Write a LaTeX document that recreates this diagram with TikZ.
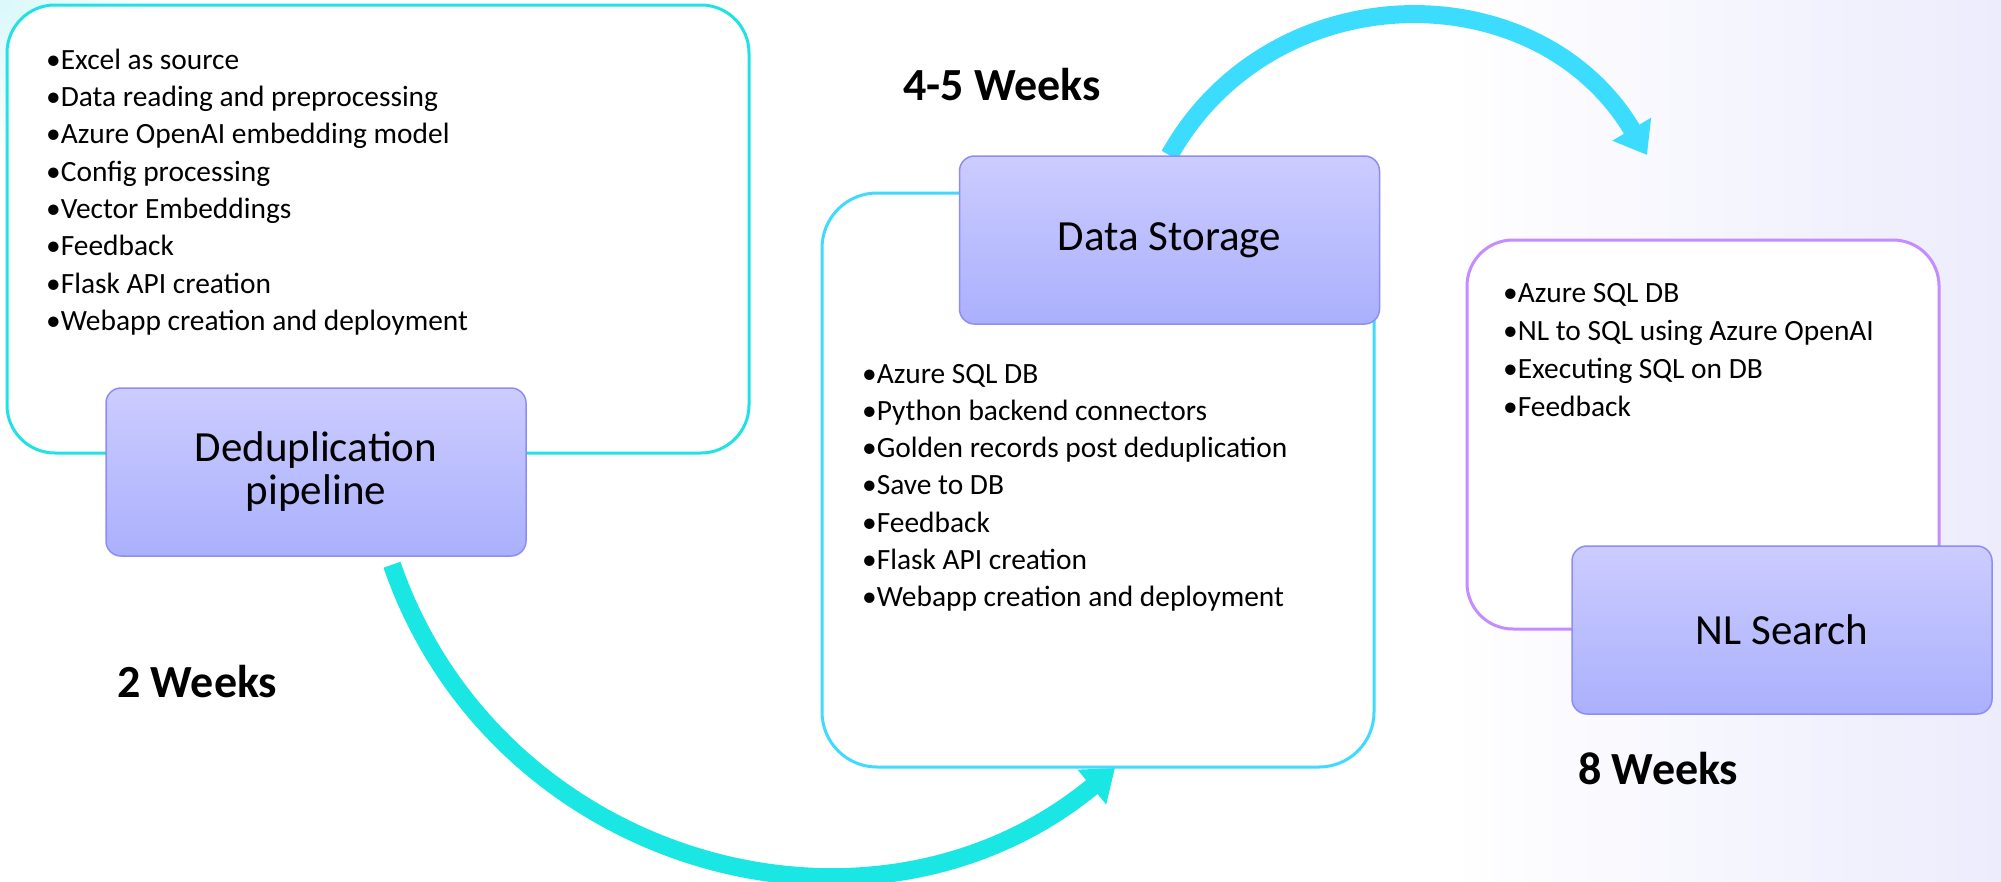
\documentclass[tikz,border=0pt]{standalone}
\usepackage{fontspec}
\setmainfont{Carlito}
\usetikzlibrary{arrows.meta,calc}
\pgfdeclarelayer{back}
\pgfdeclarelayer{mid}
\pgfsetlayers{back,mid,main}
\definecolor{cbox1}{RGB}{32,226,228}
\definecolor{cbox2}{RGB}{64,218,255}
\definecolor{cbox3}{RGB}{196,140,255}
\definecolor{carr1}{RGB}{26,230,228}
\definecolor{carr2}{RGB}{60,220,255}
\definecolor{ntop}{RGB}{204,204,255}
\definecolor{nbot}{RGB}{170,176,252}
\definecolor{nborder}{RGB}{140,140,250}
\definecolor{bgl}{RGB}{236,236,253}
\definecolor{bgc}{RGB}{218,248,250}
\begin{document}
\begin{tikzpicture}[x=1pt,y=-1pt,
  outbox/.style={draw, fill=white, line width=3pt, rounded corners=#1, inner sep=0pt},
  stage/.style={draw=nborder, line width=1.5pt, top color=ntop, bottom color=nbot,
     rounded corners=15pt, minimum width=420pt, minimum height=168pt, inner sep=0pt,
     align=center, font=\fontsize{43}{43}\selectfont},
  item/.style={anchor=base west, inner sep=0pt, font=\fontsize{29.4}{35}\selectfont},
  weeks/.style={anchor=base west, inner sep=0pt, font=\fontsize{46}{50}\selectfont\bfseries},
  bigarrow/.style={line width=18pt, -{Triangle[width=43pt,length=30pt]}}
]
\useasboundingbox (0,0) rectangle (2001,881);
\begin{pgfonlayer}{back}
\fill[white] (0,0) rectangle (2001,881);
\shade[left color=white, right color=bgl] (1450,0) rectangle (2001,881);
\shade[inner color=bgc, outer color=white] (-160,-160) rectangle (160,160);
\end{pgfonlayer}

% outline boxes
\node[outbox=48pt, draw=cbox1, minimum width=742pt, minimum height=448pt] (b1) at (378,229) {};
\node[outbox=55pt, draw=cbox2, minimum width=552pt, minimum height=574pt] (b2) at (1098,480) {};
\node[outbox=46pt, draw=cbox3, minimum width=472pt, minimum height=389pt] (b3) at (1703,434.5) {};

% stage nodes
\node[stage] (dd) at (316,472) {Deduplication\\pipeline};
\node[stage] (ds) at (1169.5,240) {Data Storage};
\node[stage] (nl) at (1782,630) {NL Search};

% arrows, beneath the stage nodes
\coordinate (a1s) at ($(dd.south)+(76,8)$);
\coordinate (a1e) at (1115,768);
\coordinate (a2e) at (1647,155);
\begin{pgfonlayer}{mid}
\draw[bigarrow, draw=carr1] (a1s) .. controls (495.7,865.7) and (870.1,969.7) .. (a1e);
\draw[bigarrow, draw=carr2] (ds.north) .. controls (1271.8,-27.6) and (1537.5,-29.7) .. (a2e);
\end{pgfonlayer}

% lists
\foreach \t [count=\i from 0] in {Excel as source, Data reading and preprocessing, Azure OpenAI embedding model, Config processing, Vector Embeddings, Feedback, Flask API creation, Webapp creation and deployment}
  \node[item] (la\i) at (46,69+37.37*\i) {•\t};
\foreach \t [count=\i from 0] in {Azure SQL DB, Python backend connectors, Golden records post deduplication, Save to DB, Feedback, Flask API creation, Webapp creation and deployment}
  \node[item] (lb\i) at (862,383+37.25*\i) {•\t};
\foreach \t [count=\i from 0] in {Azure SQL DB, NL to SQL using Azure OpenAI, Executing SQL on DB, Feedback}
  \node[item] (lc\i) at (1503,302.7+37.93*\i) {•\t};

% durations
\node[weeks] (w1) at (117,697) {2 Weeks};
\node[weeks] (w2) at (903,100) {4-5 Weeks};
\node[weeks] (w3) at (1578,784.5) {8 Weeks};
\end{tikzpicture}
\end{document}
